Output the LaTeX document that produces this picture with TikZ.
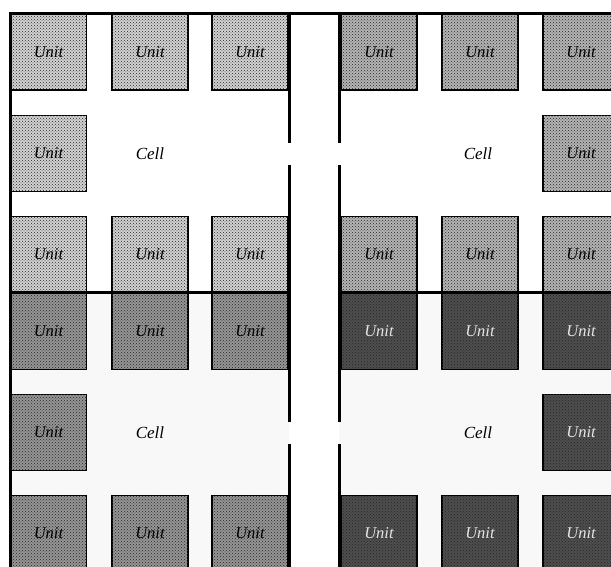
\documentclass[tikz,border=0pt]{standalone}
\usepackage{fontspec}
\setmainfont{Liberation Serif}
\usetikzlibrary{patterns}
\definecolor{ctl}{HTML}{D2D2D2}
\definecolor{ctr}{HTML}{B4B4B4}
\definecolor{cbl}{HTML}{959595}
\definecolor{cbr}{HTML}{4E4E4E}
\definecolor{cbg}{HTML}{F8F8F8}
\tikzset{
  unitbox/.style={draw=black, line width=1.6pt, minimum width=76pt, minimum height=76pt, inner sep=0pt,
    font=\itshape\fontsize{16.5}{16.5}\selectfont,
    postaction={pattern=crosshatch dots, pattern color=black!85}},
  utl/.style={unitbox, fill=ctl},
  utr/.style={unitbox, fill=ctr},
  ubl/.style={unitbox, fill=cbl},
  ubr/.style={unitbox, fill=cbr, text=white!80!gray},
  celllabel/.style={font=\itshape\fontsize{17}{17}\selectfont},
  wall/.style={line width=3pt, line cap=rect},
}
\begin{document}
\begin{tikzpicture}[x=1pt,y=-1pt]
\useasboundingbox (0,0) rectangle (611,567);
\clip (0,0) rectangle (611,567);
% faint backgrounds
\fill[cbg] (10,293) rectangle (289,567);
\fill[cbg] (339,293) rectangle (611,567);
% top-left cell
\node[utl] (a11) at (48.5,52) {Unit};
\node[utl] (a12) at (150,52) {Unit};
\node[utl] (a13) at (250,52) {Unit};
\node[utl] (a21) at (48.5,153.5) {Unit};
\node[utl] (a31) at (48.5,254.5) {Unit};
\node[utl] (a32) at (150,254.5) {Unit};
\node[utl] (a33) at (250,254.5) {Unit};
\node[celllabel] (ca) at (150,153.5) {Cell};
% top-right cell
\node[utr] (b11) at (379,52) {Unit};
\node[utr] (b12) at (480,52) {Unit};
\node[utr] (b13) at (581,52) {Unit};
\node[utr] (b23) at (581,153.5) {Unit};
\node[utr] (b31) at (379,254.5) {Unit};
\node[utr] (b32) at (480,254.5) {Unit};
\node[utr] (b33) at (581,254.5) {Unit};
\node[celllabel] (cb) at (478,153.5) {Cell};
% bottom-left cell
\node[ubl] (c11) at (48.5,331.5) {Unit};
\node[ubl] (c12) at (150,331.5) {Unit};
\node[ubl] (c13) at (250,331.5) {Unit};
\node[ubl] (c21) at (48.5,432.5) {Unit};
\node[ubl] (c31) at (48.5,533.5) {Unit};
\node[ubl] (c32) at (150,533.5) {Unit};
\node[ubl] (c33) at (250,533.5) {Unit};
\node[celllabel] (cc) at (150,432.5) {Cell};
% bottom-right cell
\node[ubr] (d11) at (379,331.5) {Unit};
\node[ubr] (d12) at (480,331.5) {Unit};
\node[ubr] (d13) at (581,331.5) {Unit};
\node[ubr] (d23) at (581,432.5) {Unit};
\node[ubr] (d31) at (379,533.5) {Unit};
\node[ubr] (d32) at (480,533.5) {Unit};
\node[ubr] (d33) at (581,533.5) {Unit};
\node[celllabel] (cd) at (478,432.5) {Cell};
% walls
\draw[wall] (10,14) -- (615,14);
\draw[wall] (10,14) -- (10,570);
\draw[wall] (10,292.5) -- (289,292.5);
\draw[wall] (339,292.5) -- (615,292.5);
\draw[wall] (289,14) -- (289,142);
\draw[wall] (289,167) -- (289,292.5);
\draw[wall] (289,292.5) -- (289,420);
\draw[wall] (289,445) -- (289,570);
\draw[wall] (339,14) -- (339,142);
\draw[wall] (339,167) -- (339,292.5);
\draw[wall] (339,292.5) -- (339,420);
\draw[wall] (339,445) -- (339,570);
\end{tikzpicture}
\end{document}
